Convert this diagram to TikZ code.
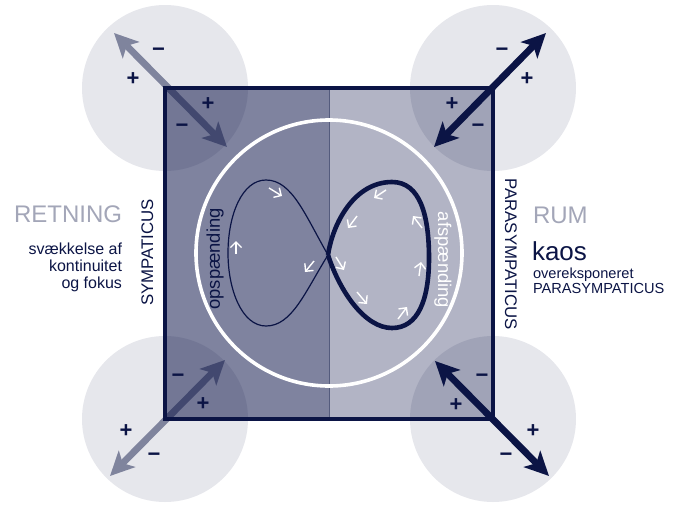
\documentclass[tikz,border=0pt]{standalone}
\usepackage{fontspec}
\setmainfont{Liberation Sans}
\usepackage{tikz}
\usetikzlibrary{arrows.meta}

\definecolor{navy}{HTML}{0B1445}
\definecolor{darkhalf}{HTML}{7F839F}
\definecolor{lighthalf}{HTML}{B2B4C5}
\definecolor{softgray}{HTML}{A3A6B8}

\begin{document}
\begin{tikzpicture}[
    x=0.5pt, y=-0.5pt,
    every node/.style={inner sep=0pt, outer sep=0pt},
    frame/.style={draw=navy, line width=2.2pt},
    halo/.style={fill=navy, fill opacity=0.1},
    ring/.style={draw=white, line width=1.8pt},
    bigarrow/.style={line width=3.4pt,
        {Stealth[length=12pt, width=11.5pt, inset=3pt]}-{Stealth[length=12pt, width=11.5pt, inset=3pt]}},
    pm/.style={font=\bfseries\fontsize{11}{11}\selectfont, text=navy},
    chev/.style={draw=white, line width=0.7pt, -{Straight Barb[length=2.8pt, width=5.6pt]}},
    title/.style={font=\fontsize{12}{12}\selectfont, text=softgray},
    note/.style={font=\fontsize{8}{8.4}\selectfont, text=navy},
    side/.style={font=\fontsize{8.4}{8.4}\selectfont, text=navy},
    loopname/.style={font=\fontsize{9.2}{9.2}\selectfont}
]
\useasboundingbox (0,0) rectangle (675,504);

% square, two halves
\coordinate (tl) at (165,88);
\coordinate (tr) at (493,88);
\coordinate (bl) at (165,419);
\coordinate (br) at (493,419);
\coordinate (mt) at (329,88);
\coordinate (mb) at (329,419);
\fill[darkhalf] (tl) rectangle (mb);
\fill[lighthalf] (mt) rectangle (br);
\draw[navy!70, line width=0.4pt] (mt) -- (mb);

% corner halos
\foreach \c in {tl,tr,bl,br}
    \fill[halo] (\c) circle[radius=83];

% big ring and frame
\coordinate (mid) at (329,253);
\draw[ring] (mid) circle[radius=133];
\draw[frame] (tl) rectangle (br);

% corner arrows
\coordinate (tlOut) at (114,33);
\coordinate (tlIn) at (227,147);
\coordinate (blIn) at (225,360);
\coordinate (blOut) at (110,476);
\coordinate (trOut) at (546,33);
\coordinate (trIn) at (434,147);
\coordinate (brIn) at (435,361);
\coordinate (brOut) at (549,476);
\begin{scope}[transparency group, opacity=0.47]
    \draw[bigarrow, navy] (tlOut) -- (tlIn);
\end{scope}
\begin{scope}[transparency group, opacity=0.47]
    \draw[bigarrow, navy] (blIn) -- (blOut);
\end{scope}
\draw[bigarrow, navy] (trOut) -- (trIn);
\draw[bigarrow, navy] (brIn) -- (brOut);

% signs
\node[pm] (tlA) at (158.5,52) {−};
\node[pm] (tlB) at (133,79.5) {+};
\node[pm] (tlC) at (208,104) {+};
\node[pm] (tlD) at (182,128.5) {−};
\node[pm] (trA) at (502,52) {−};
\node[pm] (trB) at (527,79.5) {+};
\node[pm] (trC) at (452,104) {+};
\node[pm] (trD) at (478,128.5) {−};
\node[pm] (blA) at (178,378.5) {−};
\node[pm] (blB) at (203,404.5) {+};
\node[pm] (blC) at (126,431) {+};
\node[pm] (blD) at (154,457) {−};
\node[pm] (brA) at (482,378.5) {−};
\node[pm] (brB) at (456,405.5) {+};
\node[pm] (brC) at (533,431) {+};
\node[pm] (brD) at (506,457) {−};

% figure eight
\coordinate (cross) at (328,255);
\draw[navy, line width=0.6pt] (cross) .. controls (305,215) and (292,180) .. (266,180)
    .. controls (242,180) and (228,215) .. (228,253)
    .. controls (228,290) and (242,326) .. (266,326)
    .. controls (292,326) and (305,292) .. (cross);
\draw[navy, line width=2.3pt] (cross) .. controls (333,222) and (355,182) .. (392,182)
    .. controls (420,182) and (429,215) .. (429,258)
    .. controls (429,300) and (418,328) .. (392,328)
    .. controls (365,328) and (340,292) .. (cross);

% direction marks
\draw[chev] (269,188) -- (282,196);
\draw[chev] (236,254) -- (236,241);
\draw[chev] (314,261) -- (305,272);
\draw[chev] (386,190) -- (374,198);
\draw[chev] (357,216) -- (348,228);
\draw[chev] (336,257) -- (344,270);
\draw[chev] (357,292) -- (367,304);
\draw[chev] (398,319) -- (407,307);
\draw[chev] (419,276) -- (421,262);
\draw[chev] (422,228) -- (413,216);

% labels
\node[loopname, text=navy, rotate=90] (opsp) at (215,259) {opspænding};
\node[loopname, text=white, rotate=-90] (afsp) at (443,260) {afspænding};
\node[side, rotate=90, anchor=base] (symp) at (153,252.5) {SYMPATICUS};
\node[side, rotate=-90, anchor=base] (para) at (505,254) {PARASYMPATICUS};

\node[title, anchor=base east] (retning) at (122,222) {RETNING};
\node[note, anchor=north east, align=right] (svaek) at (122,243) {svækkelse af\\kontinuitet\\og fokus};

\node[title, anchor=base west] (rum) at (533,223) {RUM};
\node[font=\fontsize{13}{13}\selectfont, text=navy, anchor=base west] (kaos) at (532,260) {kaos};
\node[font=\fontsize{7.3}{7.3}\selectfont, text=navy, anchor=base west] (over) at (533,278) {overeksponeret};
\node[font=\fontsize{7.3}{7.3}\selectfont, text=navy, anchor=base west] (overPara) at (533,293) {PARASYMPATICUS};
\end{tikzpicture}
\end{document}
